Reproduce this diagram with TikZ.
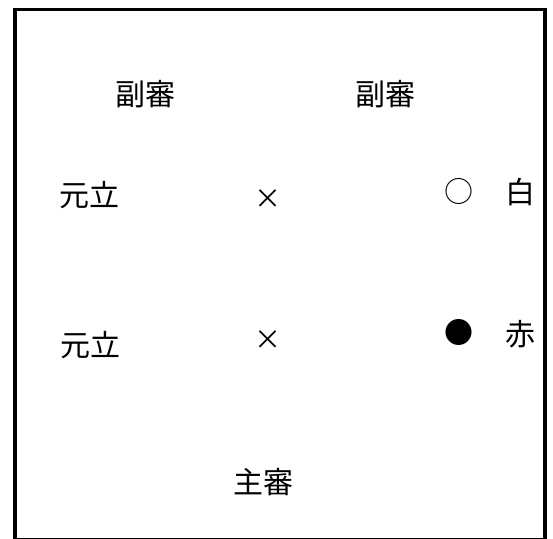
\documentclass[tikz,border=0pt]{standalone}
\usepackage{fontspec}
\newfontfamily\jpfont{Noto Sans CJK JP}
\tikzset{
  lbl/.style={inner sep=0pt, font=\jpfont\fontsize{30}{30}\selectfont},
  symb/.style={inner sep=0pt, font=\jpfont\fontsize{29}{29}\selectfont},
  crs/.style={inner sep=0pt, font=\jpfont\fontsize{27}{27}\selectfont},
  frame/.style={line width=3.5pt}
}
\begin{document}
\begin{tikzpicture}[x=1pt,y=-1pt]
\useasboundingbox (0,0) rectangle (553,538);
\draw[frame] (15,9.5) rectangle (545,539.5);
\node[lbl] (fs1) at (145,94) {副審};
\node[lbl] (fs2) at (385,94) {副審};
\node[lbl] (gr1) at (89,195) {元立};
\node[lbl] (gr2) at (90,345) {元立};
\node[crs] (x1) at (268,199) {×};
\node[crs] (x2) at (268,340) {×};
\node[symb] (wc) at (459,191) {○};
\node[symb] (rc) at (459,332) {●};
\node[lbl] (white) at (520,192) {白};
\node[lbl] (red) at (520,334) {赤};
\node[lbl] (ss) at (263,482) {主審};
\end{tikzpicture}
\end{document}
